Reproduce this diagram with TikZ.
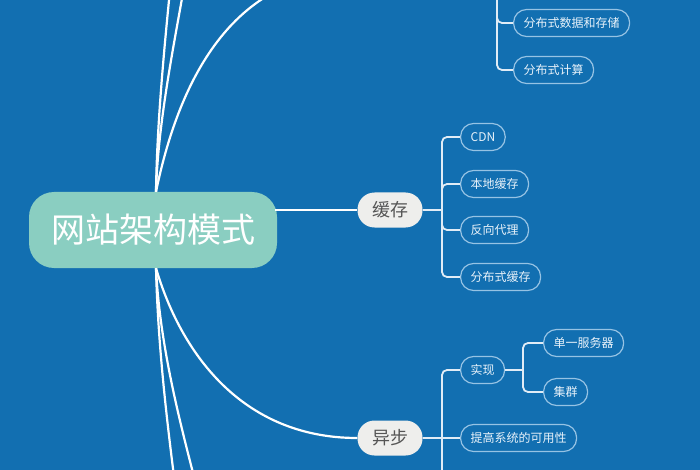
\documentclass[tikz,border=0pt]{standalone}
\usepackage{fontspec}
\setmainfont{Noto Sans CJK SC}
\definecolor{bg}{RGB}{18,111,177}
\definecolor{rootfill}{RGB}{138,206,193}
\definecolor{subfill}{RGB}{238,238,236}
\definecolor{subtext}{RGB}{85,85,85}
\definecolor{leafline}{RGB}{150,195,228}
\definecolor{leaftext}{RGB}{232,242,250}
\definecolor{brk}{RGB}{225,236,246}
\begin{document}
\begin{tikzpicture}[x=1pt, y=-1pt,
  root/.style={fill=rootfill, rounded corners=25pt, minimum width=248pt, minimum height=76pt, text=white, font=\fontsize{34}{40}\selectfont},
  topic/.style={fill=subfill, rounded corners=17pt, minimum width=65pt, minimum height=35pt, text=subtext, font=\fontsize{18}{20}\selectfont},
  leaf/.style={draw=leafline, line width=1.2pt, rounded corners=13pt, minimum height=27pt, inner xsep=10pt, text=leaftext, font=\fontsize{12}{14}\selectfont, anchor=west},
  branch/.style={white, line width=2.2pt},
  brace/.style={brk, line width=1.8pt, rounded corners=5pt}]
\useasboundingbox (0,0) rectangle (700,470);
\clip (0,0) rectangle (700,470);
\fill[bg] (0,0) rectangle (700,470);

\node[root] (site) at (153,230) {网站架构模式};
\node[topic] (huancun) at (390,210) {缓存};
\node[topic] (yibu) at (390,438) {异步};

\node[leaf] (fbsj) at (513,23) {分布式数据和存储};
\node[leaf] (fbjs) at (513,70) {分布式计算};
\node[leaf] (cdn) at (460,137) {CDN};
\node[leaf] (bendi) at (460,184) {本地缓存};
\node[leaf] (fanxiang) at (460,230) {反向代理};
\node[leaf] (fbhc) at (460,277) {分布式缓存};
\node[leaf] (shixian) at (460,370) {实现};
\node[leaf] (kyx) at (460,438) {提高系统的可用性};
\node[leaf] (danyi) at (543,343) {单一服务器};
\node[leaf] (jiqun) at (543,392) {集群};

% free ends, outside the picture
\coordinate (fenbu) at (357,-28);
\coordinate (upA) at (172,-30);
\coordinate (upB) at (187,-30);
\coordinate (downA) at (177,500);
\coordinate (downB) at (200,500);
\coordinate (topj) at (497,-20);
\coordinate (hcj) at (442,210);
\coordinate (ybj) at (442,438);
\coordinate (ybend) at (442,490);
\coordinate (sxj) at (523,370);

\draw[branch] ([xshift=3pt]site.north) .. controls (178,85) and (230,-28) .. (fenbu);
\draw[branch] ([xshift=3pt]site.north) .. controls (157,120) and (165,40) .. (upA);
\draw[branch] ([xshift=3pt]site.north) .. controls (158,120) and (175,40) .. (upB);
\draw[branch] ([xshift=3pt]site.south) .. controls (180,350) and (240,438) .. (yibu.west);
\draw[branch] ([xshift=3pt]site.south) .. controls (158,350) and (168,430) .. (downA);
\draw[branch] ([xshift=3pt]site.south) .. controls (160,350) and (182,430) .. (downB);
\draw[branch] ([xshift=-2pt]site.east |- huancun) -- (huancun.west);

\draw[brace] (topj) |- (fbsj.west);
\draw[brace] (topj) |- (fbjs.west);

\draw[brace] (huancun.east) -- (hcj);
\foreach \n in {cdn,bendi,fanxiang,fbhc}
  \draw[brace] (hcj) |- (\n.west);

\draw[brace] (yibu.east) -- (ybj);
\draw[brace] (ybj) |- (shixian.west);
\draw[brace] (ybj) -- (kyx.west);
\draw[brace] (ybj) -- (ybend);
\draw[brace] (shixian.east) -- (sxj);
\draw[brace] (sxj) |- (danyi.west);
\draw[brace] (sxj) |- (jiqun.west);
\end{tikzpicture}
\end{document}
